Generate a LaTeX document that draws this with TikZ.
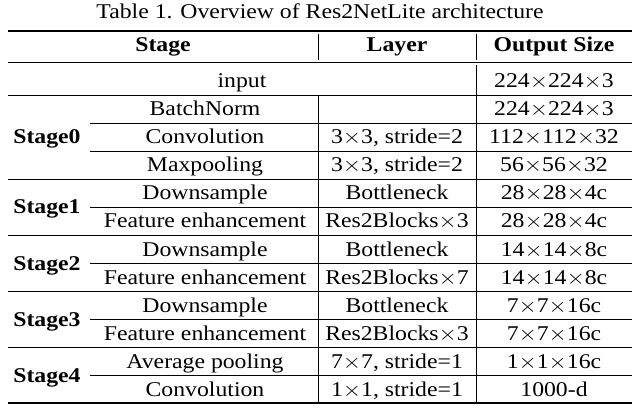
\documentclass[tikz,border=0pt]{standalone}
\usepackage{fontspec}
\setmainfont{Liberation Serif}
\newcommand{\W}[1]{\scalebox{1.13}[1]{#1}}
\begin{document}
\begin{tikzpicture}[x=1pt,y=-1pt,
  cell/.style={font=\fontsize{21}{23}\selectfont, inner sep=0pt, anchor=base},
  head/.style={cell, font=\fontsize{21}{23}\selectfont\bfseries},
  thick rule/.style={line width=1.6pt},
  thin rule/.style={line width=0.9pt}]
\useasboundingbox (0,0) rectangle (640,414);
\node[cell] (title) at (320,19) {\W{Table 1. Overview of Res2NetLite architecture}};
\draw[thick rule] (8,31) -- (632,31);
\draw[thin rule] (8,62) -- (632,62);
\draw[thin rule] (8,95) -- (632,95);
\foreach \y in {179,235,291,347} \draw[thin rule] (8,\y) -- (632,\y);
\foreach \y in {123,151,207,263,319,375} \draw[thin rule] (90,\y) -- (632,\y);
\draw[thick rule] (8,403) -- (632,403);
\draw[thin rule] (318,34) -- (318,60) (476,34) -- (476,60);
\draw[thin rule] (476,65) -- (476,95);
\draw[thin rule] (318,95) -- (318,403) (476,95) -- (476,403);
\node[head] (h1) at (163,52) {\W{Stage}};
\node[head] (h2) at (397,52) {\W{Layer}};
\node[head] (h3) at (554,52) {\W{Output Size}};
\node[cell] (in) at (242,88) {\W{input}};
\node[cell] (ino) at (554,88) {\W{224$\times$224$\times$3}};
\node[head] (s0) at (47,144) {\W{Stage0}};
\node[head] (s1) at (47,214) {\W{Stage1}};
\node[head] (s2) at (47,270) {\W{Stage2}};
\node[head] (s3) at (47,326) {\W{Stage3}};
\node[head] (s4) at (47,382) {\W{Stage4}};
\foreach \n/\y/\a/\b/\c in {
 r1/116/BatchNorm//224$\times$224$\times$3,
 r2/144/Convolution/3$\times$3{,} stride=2/112$\times$112$\times$32,
 r3/172/Maxpooling/3$\times$3{,} stride=2/56$\times$56$\times$32,
 r4/200/Downsample/Bottleneck/28$\times$28$\times$4c,
 r5/228/Feature enhancement/Res2Blocks$\times$3/28$\times$28$\times$4c,
 r6/256/Downsample/Bottleneck/14$\times$14$\times$8c,
 r7/284/Feature enhancement/Res2Blocks$\times$7/14$\times$14$\times$8c,
 r8/312/Downsample/Bottleneck/7$\times$7$\times$16c,
 r9/340/Feature enhancement/Res2Blocks$\times$3/7$\times$7$\times$16c,
 r10/368/Average pooling/7$\times$7{,} stride=1/1$\times$1$\times$16c,
 r11/396/Convolution/1$\times$1{,} stride=1/1000-d}
{
 \node[cell] (\n a) at (205,\y) {\W{\a}};
 \node[cell] (\n b) at (397,\y) {\W{\b}};
 \node[cell] (\n c) at (554,\y) {\W{\c}};
}
\end{tikzpicture}
\end{document}
